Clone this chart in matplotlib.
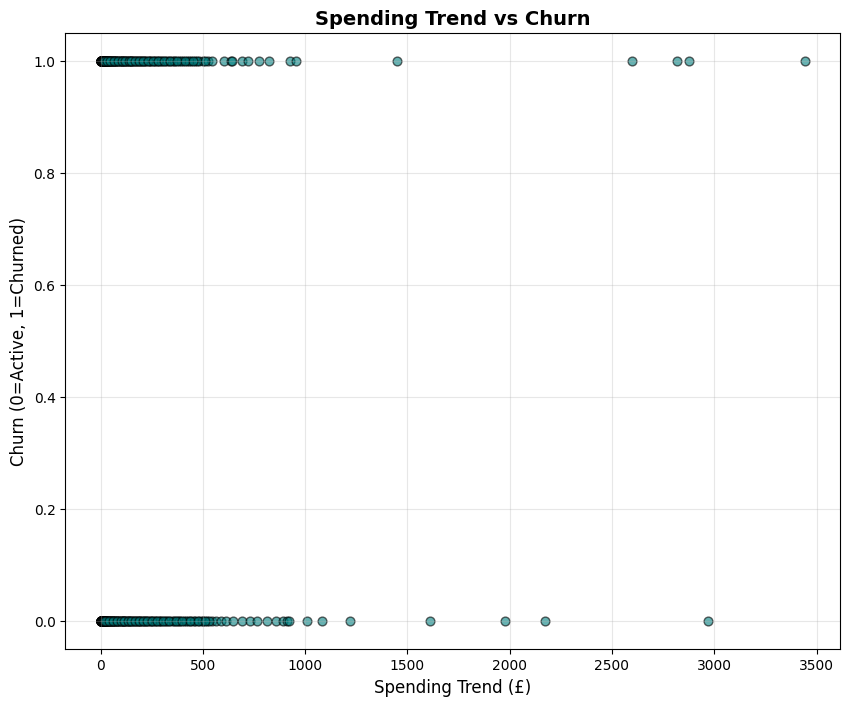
import matplotlib
matplotlib.use("Agg")
import matplotlib.pyplot as plt

# Spending trend values (£) for churned customers (churn = 1)
spend_churned = [0, 0, 0, 0, 1, 1, 1, 2, 2, 3, 3, 4, 4, 5, 5, 6, 7, 8, 9, 10,
                 11, 12, 13, 14, 15, 17, 18, 20, 22, 24, 26, 28, 30, 33, 35, 38,
                 40, 43, 46, 50, 53, 57, 60, 64, 68, 72, 77, 82, 87, 93, 98, 104,
                 110, 117, 124, 131, 139, 147, 155, 164, 173, 182, 192, 202, 213,
                 224, 236, 248, 261, 274, 288, 302, 317, 333, 349, 366, 384, 402,
                 421, 440, 460, 481, 503, 525, 545, 604, 636, 643, 690, 721, 776,
                 825, 927, 954, 1449, 2597, 2817, 2876, 3444,
                 21, 36, 55, 75, 95, 115, 128, 143, 160, 178, 196, 218, 242, 268,
                 295, 325, 358, 395, 432, 470, 512,
                 16, 31, 48, 66, 85, 106, 121, 137, 151, 168, 187, 207, 230, 255,
                 281, 310, 341, 375, 412, 450]

# Spending trend values (£) for active customers (churn = 0)
spend_active = [0, 0, 0, 0, 0, 1, 1, 1, 2, 2, 2, 3, 3, 4, 4, 5, 5, 6, 6, 7, 8,
                9, 10, 11, 12, 13, 14, 15, 16, 18, 19, 21, 23, 25, 27, 29, 31,
                34, 36, 39, 42, 45, 48, 52, 55, 59, 63, 67, 72, 77, 82, 87, 92,
                98, 104, 110, 117, 124, 131, 138, 146, 154, 163, 172, 181, 191,
                201, 212, 223, 234, 246, 258, 271, 284, 298, 312, 327, 342, 358,
                374, 391, 408, 426, 444, 463, 482, 502, 522, 543, 565, 588, 612,
                648, 693, 729, 767, 812, 856, 893, 913, 922, 1008, 1085, 1219,
                1609, 1979, 2175, 2969,
                17, 33, 50, 70, 90, 108, 122, 141, 158, 176, 195, 216, 240, 265,
                292, 320, 352, 385, 418, 455, 495, 530,
                24, 40, 61, 80, 100, 114, 135, 150, 167, 186, 206, 228, 252,
                277, 305, 336, 368, 400, 437, 475, 510]

x_vals = spend_active + spend_churned
y_vals = [0] * len(spend_active) + [1] * len(spend_churned)

fig, ax = plt.subplots(figsize=(10, 8), dpi=100)
ax.scatter(x_vals, y_vals, c="teal", alpha=0.6, edgecolors="black", s=40)
ax.set_title("Spending Trend vs Churn", fontsize=14, fontweight="bold")
ax.set_xlabel("Spending Trend (£)", fontsize=12)
ax.set_ylabel("Churn (0=Active, 1=Churned)", fontsize=12)
ax.grid(True, alpha=0.3)
fig.savefig("out.png", dpi=100, bbox_inches="tight")
